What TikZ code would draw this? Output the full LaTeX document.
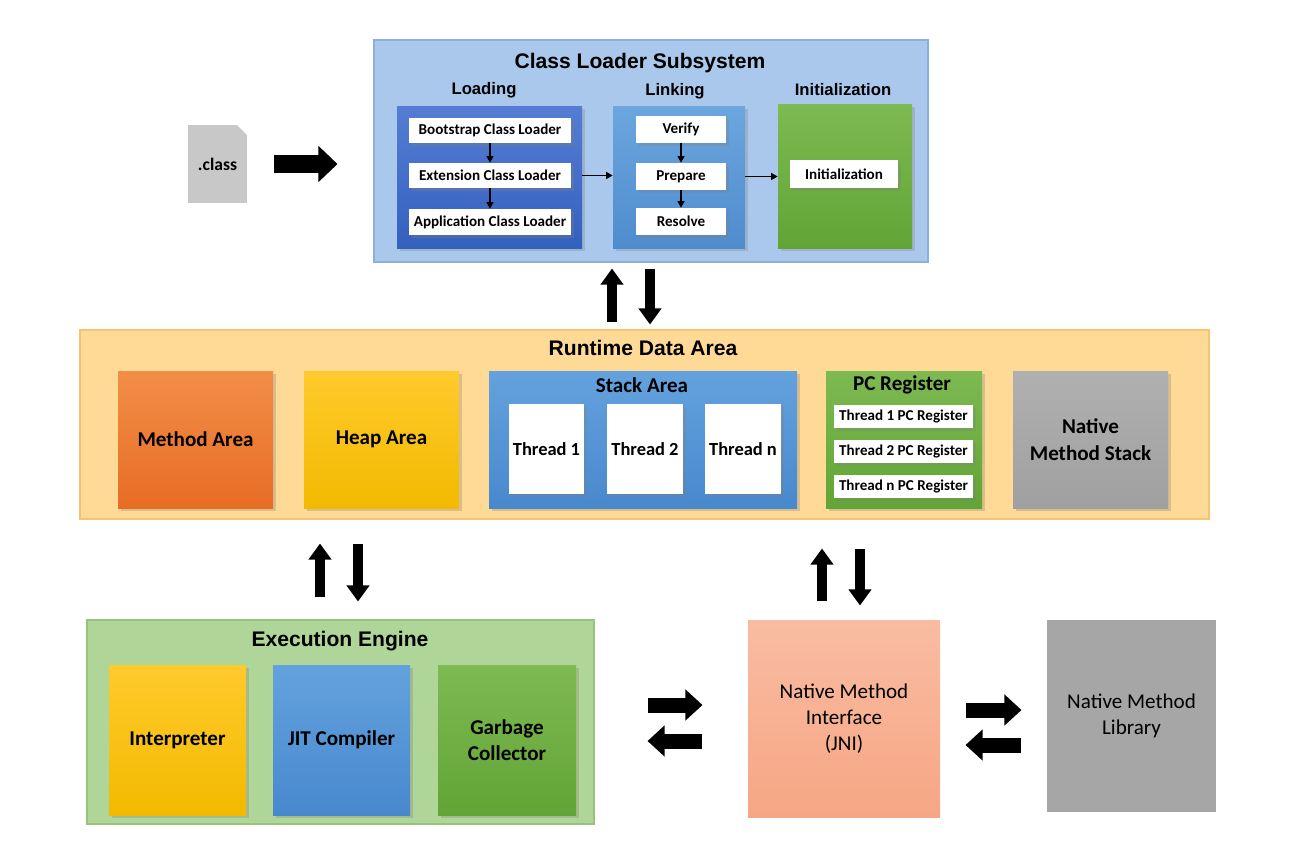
\documentclass[tikz,border=0pt]{standalone}
\usepackage{fontspec}
\setmainfont{Carlito}
\newfontfamily\arialfont{Liberation Sans}
\usetikzlibrary{arrows.meta,shadows}
\newcommand{\pxu}{0.02cm}
\definecolor{clsbg}{RGB}{170,200,236}
\definecolor{clsline}{RGB}{140,175,220}
\definecolor{loadtop}{RGB}{85,125,212}
\definecolor{loadbot}{RGB}{52,96,190}
\definecolor{linktop}{RGB}{108,166,222}
\definecolor{linkbot}{RGB}{78,140,206}
\definecolor{greentop}{RGB}{125,186,82}
\definecolor{greenbot}{RGB}{98,164,54}
\definecolor{rdabg}{RGB}{255,217,150}
\definecolor{rdaline}{RGB}{246,196,110}
\definecolor{orangetop}{RGB}{242,142,72}
\definecolor{orangebot}{RGB}{232,108,36}
\definecolor{yellowtop}{RGB}{255,202,44}
\definecolor{yellowbot}{RGB}{242,186,0}
\definecolor{bluetop}{RGB}{100,162,222}
\definecolor{bluebot}{RGB}{72,136,205}
\definecolor{graytop}{RGB}{176,176,176}
\definecolor{graybot}{RGB}{160,160,160}
\definecolor{eebg}{RGB}{176,213,152}
\definecolor{eeline}{RGB}{150,196,122}
\definecolor{jnitop}{RGB}{249,188,162}
\definecolor{jnibot}{RGB}{246,166,132}
\definecolor{libgray}{RGB}{166,166,166}
\definecolor{filegray}{RGB}{200,200,200}

\begin{document}
\begin{tikzpicture}[x=0.02cm, y=-0.02cm,
  panel/.style={rectangle, inner sep=0pt, align=center, line width=0.6pt},
  block/.style={rectangle, inner sep=0pt, align=center,
    drop shadow={shadow xshift=0.05cm, shadow yshift=-0.06cm, opacity=0.3}},
  whitebox/.style={block, fill=white},
  wh/.style 2 args={minimum width=#1*\pxu, minimum height=#2*\pxu},
  bigtitle/.style={font=\arialfont\bfseries\fontsize{12}{14}\selectfont},
  subtitle/.style={font=\arialfont\bfseries\fontsize{9.5}{11}\selectfont},
  areatext/.style={font=\bfseries\fontsize{12}{15}\selectfont},
  jnitext/.style={font=\fontsize{12}{15}\selectfont},
  threadtext/.style={font=\bfseries\fontsize{10.5}{12}\selectfont},
  smalltext/.style={font=\bfseries\fontsize{8.6}{10}\selectfont},
  thin arrow/.style={line width=0.025cm, -{Triangle[width=0.14cm,length=0.13cm]}},
  fat arrow/.style={line width=0.2cm, -{Triangle[width=0.44cm,length=0.32cm]}},
  wide arrow/.style={line width=0.3cm, -{Triangle[width=0.6cm,length=0.34cm]}},
  file arrow/.style={line width=0.36cm, -{Triangle[width=0.7cm,length=0.38cm]}}]

\useasboundingbox (0,0) rectangle (1294,846);

% class file
\node[panel, fill=filegray, wh={59}{78}, font=\bfseries\fontsize{10}{12}\selectfont] (classf) at (217.5,164) {.class};
\fill[white] ([xshift=-0.22cm]classf.north east) -- (classf.north east) -- ([yshift=-0.22cm]classf.north east) -- cycle;

% class loader subsystem
\node[panel, fill=clsbg, draw=clsline, wh={554}{222}] (cls) at (651,151) {};
\node[bigtitle] (clstitle) at (640,63) {Class Loader Subsystem};
\node[subtitle] (loadtitle) at (484,90) {Loading};
\node[subtitle] (linktitle) at (675,91) {Linking};
\node[subtitle] (inittitle) at (843,90) {Initialization};

\node[block, top color=loadtop, bottom color=loadbot, wh={185}{142}] (loading) at (489.5,177) {};
\node[whitebox, smalltext, wh={162}{25}] (bootstrap) at (490,130.5) {Bootstrap Class Loader};
\node[whitebox, smalltext, wh={162}{25}] (extension) at (490,175.5) {Extension Class Loader};
\node[whitebox, smalltext, wh={162}{26}] (application) at (490,222) {Application Class Loader};

\node[block, top color=linktop, bottom color=linkbot, wh={132}{142}] (linking) at (679,177) {};
\node[whitebox, smalltext, wh={90}{27}] (verify) at (681,129.5) {Verify};
\node[whitebox, smalltext, wh={90}{27}] (prepare) at (681,176.5) {Prepare};
\node[whitebox, smalltext, wh={90}{27}] (resolve) at (681,221.5) {Resolve};

\node[block, top color=greentop, bottom color=greenbot, wh={134}{144}] (init) at (845,176) {};
\node[whitebox, smalltext, wh={108}{28}] (initbox) at (844,174) {Initialization};

\draw[thin arrow] (bootstrap) -- (extension);
\draw[thin arrow] (extension) -- (application);
\draw[thin arrow] (verify) -- (prepare);
\draw[thin arrow] (prepare) -- (resolve);
\draw[thin arrow] (loading.east |- extension) -- (linking.west |- extension);
\draw[thin arrow] (linking.east |- prepare) -- (init.west |- prepare);

% runtime data area
\node[panel, fill=rdabg, draw=rdaline, wh={1129}{189}] (rda) at (644.5,424.5) {};
\node[bigtitle] (rdatitle) at (643,348) {Runtime Data Area};
\node[block, areatext, top color=orangetop, bottom color=orangebot, wh={155}{137}] (method) at (195.5,439.5) {Method Area};
\node[block, areatext, top color=yellowtop, bottom color=yellowbot, wh={155}{137}] (heap) at (381.5,439.5) {Heap Area};
\node[block, top color=bluetop, bottom color=bluebot, wh={308}{137}] (stack) at (643,439.5) {};
\node[areatext] (stacktitle) at (642,385) {Stack Area};
\node[whitebox, threadtext, wh={75}{90}] (thread1) at (546.5,449) {Thread 1};
\node[whitebox, threadtext, wh={76}{90}] (thread2) at (645,449) {Thread 2};
\node[whitebox, threadtext, wh={76}{90}] (threadn) at (743,449) {Thread n};
\node[block, top color=greentop, bottom color=greenbot, wh={156}{137}] (pc) at (904,439.5) {};
\node[areatext] (pctitle) at (902,385) {PC Register};
\node[whitebox, smalltext, wh={139}{23}] (pc1) at (903.5,416.5) {Thread 1 PC Register};
\node[whitebox, smalltext, wh={139}{23}] (pc2) at (903.5,451.5) {Thread 2 PC Register};
\node[whitebox, smalltext, wh={139}{23}] (pcn) at (903.5,486) {Thread n PC Register};
\node[block, areatext, top color=graytop, bottom color=graybot, wh={155}{137}] (nstack) at (1090.5,439.5) {Native\\Method Stack};

% execution engine
\node[panel, fill=eebg, draw=eeline, wh={507}{204}] (ee) at (340.5,722) {};
\node[bigtitle] (eetitle) at (340,641) {Execution Engine};
\node[block, areatext, top color=yellowtop, bottom color=yellowbot, wh={137}{150}] (interp) at (177.5,740) {Interpreter};
\node[block, areatext, top color=bluetop, bottom color=bluebot, wh={137}{150}] (jit) at (341.5,740) {JIT Compiler};
\node[block, areatext, top color=greentop, bottom color=greenbot, wh={138}{150}] (gc) at (507,740) {Garbage\\Collector};

% native side
\node[panel, jnitext, top color=jnitop, bottom color=jnibot, wh={192}{197}] (jni) at (844,718.5) {Native Method\\Interface\\(JNI)};
\node[panel, jnitext, fill=libgray, wh={169}{192}] (lib) at (1131.5,716) {Native Method\\Library};

% connectors
\coordinate (upA) at (612,0);
\coordinate (dnA) at (650,0);
\coordinate (upB) at (320,0);
\coordinate (dnB) at (358,0);
\coordinate (upC) at (822,0);
\coordinate (dnC) at (860,0);
\coordinate (rtD) at (0,705);
\coordinate (ltD) at (0,741);
\coordinate (rtE) at (0,710);
\coordinate (ltE) at (0,745);

\draw[file arrow, shorten <=0.52cm, shorten >=0.72cm] (classf.east) -- (classf.east -| cls.west);
\draw[fat arrow, shorten <=0.14cm, shorten >=0.12cm] (rda.north -| upA) -- (cls.south -| upA);
\draw[fat arrow, shorten <=0.12cm, shorten >=0.1cm] (cls.south -| dnA) -- (rda.north -| dnA);
\draw[fat arrow, shorten <=0.44cm, shorten >=0.48cm] (ee.north -| upB) -- (rda.south -| upB);
\draw[fat arrow, shorten <=0.48cm, shorten >=0.36cm] (rda.south -| dnB) -- (ee.north -| dnB);
\draw[fat arrow, shorten <=0.36cm, shorten >=0.58cm] (jni.north -| upC) -- (rda.south -| upC);
\draw[fat arrow, shorten <=0.58cm, shorten >=0.28cm] (rda.south -| dnC) -- (jni.north -| dnC);
\draw[wide arrow, shorten <=1.06cm, shorten >=0.9cm] (ee.east |- rtD) -- (jni.west |- rtD);
\draw[wide arrow, shorten <=0.9cm, shorten >=1.06cm] (jni.west |- ltD) -- (ee.east |- ltD);
\draw[wide arrow, shorten <=0.5cm, shorten >=0.5cm] (jni.east |- rtE) -- (lib.west |- rtE);
\draw[wide arrow, shorten <=0.5cm, shorten >=0.5cm] (lib.west |- ltE) -- (jni.east |- ltE);
\end{tikzpicture}
\end{document}
